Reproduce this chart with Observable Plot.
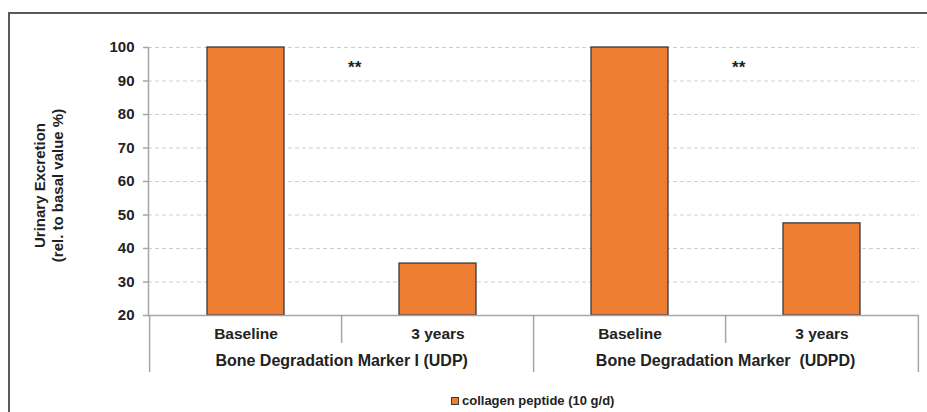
<!DOCTYPE html>
<html>
<head>
<meta charset="utf-8">
<script src="https://cdn.jsdelivr.net/npm/d3@7"></script>
<script src="https://cdn.jsdelivr.net/npm/@observablehq/plot@0.6"></script>
<style>
  html, body { margin: 0; padding: 0; background: #fff; }
  #wrap { position: relative; width: 927px; height: 412px; overflow: hidden; font-family: "Liberation Sans", Arial, sans-serif; }
  #border { position: absolute; left: 8px; top: 12px; width: 940px; height: 420px; border-top: 2px solid #5a5a5a; border-left: 2px solid #5a5a5a; box-sizing: border-box; }
  #chart { position: absolute; left: 0; top: 0; }
  #legend { position: absolute; top: 393px; left: 451px; display: flex; align-items: center; font-size: 13px; font-weight: bold; color: #222; white-space: nowrap; }
  #legend .sw { width: 6px; height: 6px; background: #ED7D31; border: 1px solid #3a3a3a; margin-right: 3px; }
</style>
</head>
<body>
<div id="wrap">
  <div id="border"></div>
  <div id="chart"></div>
  <div id="legend"><span class="sw"></span><span id="legendText"></span></div>
</div>
<script>
// ---- data ----
const groups = ["Bone Degradation Marker I (UDP)", "Bone Degradation Marker  (UDPD)"];
const groupKeys = ["UDP", "UDPD"];
const periods = ["Baseline", "3 years"];
const udpValues = [100, 35.5];
const udpdValues = [100, 47.5];
const significance = ["**", "**"];
const seriesName = "collagen peptide (10 g/d)";
const yTicks = [20, 30, 40, 50, 60, 70, 80, 90, 100];
const yLabelLines = ["Urinary Excretion", "(rel. to basal value %)"];

// ---- build table ----
const seriesValues = [udpValues, udpdValues];
const rows = [];
groupKeys.forEach((g, gi) => periods.forEach((p, pi) => rows.push({
  key: g + "|" + p, group: groups[gi], period: p, value: seriesValues[gi][pi]
})));
const keys = rows.map(d => d.key);
const periodOf = new Map(rows.map(d => [d.key, d.period]));
const secondKeys = groupKeys.map(g => g + "|" + periods[1]);
const firstKeys = groupKeys.map(g => g + "|" + periods[0]);
const groupLabelRows = groupKeys.map((g, i) => ({key: secondKeys[i], label: groups[i], sig: significance[i]}));

// ---- layout ----
const W = 927, H = 390, mL = 148, mR = 8, mT = 47, mB = 75;
const padIn = 0.6, padOut = 0.3;
const step = (W - mL - mR) / (keys.length - padIn + 2 * padOut);
const yMin = yTicks[0], yMax = yTicks[yTicks.length - 1];
const axisGray = "#a6a6a6";
const txt = "#222";

const chart = Plot.plot({
  width: W, height: H,
  marginLeft: mL, marginRight: mR, marginTop: mT, marginBottom: mB,
  style: {fontFamily: "'Liberation Sans', Arial, sans-serif", background: "transparent", overflow: "visible"},
  x: {type: "band", domain: keys, paddingInner: padIn, paddingOuter: padOut},
  y: {domain: [yMin, yMax]},
  marks: [
    Plot.gridY(yTicks.slice(1), {stroke: "#cfcfcf", strokeOpacity: 1, strokeDasharray: "4,3", strokeWidth: 1}),
    Plot.barY(rows, {x: "key", y1: () => yMin, y2: "value", fill: "#ED7D31", stroke: "#3a3a3a", strokeWidth: 1.3}),
    Plot.ruleY([yMin], {stroke: axisGray, strokeWidth: 1.5}),
    Plot.frame({anchor: "left", stroke: axisGray, strokeWidth: 1.5}),
    Plot.axisY(yTicks, {tickSize: 5, tickPadding: 9, label: null, fontSize: 15, fontWeight: "bold", fill: txt, stroke: axisGray, strokeWidth: 1.5}),
    // category tick labels
    Plot.axisX(keys, {tickSize: 0, tickPadding: 12, tickFormat: k => periodOf.get(k), label: null, fontSize: 15.5, fontWeight: "bold", fill: txt}),
    // inner dividers between periods
    Plot.axisX(secondKeys, {tickSize: 28, dx: -step / 2, fill: null, stroke: axisGray, strokeWidth: 1.5, label: null}),
    // outer dividers between groups
    Plot.axisX(firstKeys, {tickSize: 57, dx: -step / 2, fill: null, stroke: axisGray, strokeWidth: 1.5, label: null}),
    Plot.axisX([keys[keys.length - 1]], {tickSize: 57, dx: step / 2, fill: null, stroke: axisGray, strokeWidth: 1.5, label: null}),
    // group labels
    Plot.text(groupLabelRows, {x: "key", text: "label", frameAnchor: "bottom", dx: -step / 2, dy: 50, fontSize: 16, fontWeight: "bold", fill: txt}),
    // significance markers
    Plot.text(groupLabelRows, {x: "key", y: () => 94, text: "sig", dx: -step / 2 + 13, fontSize: 17, fontWeight: "bold", fill: txt}),
    // y label
    Plot.text([yLabelLines[0]], {frameAnchor: "left", textAnchor: "middle", text: d => d, rotate: -90, dx: -108, dy: 4, fontSize: 15, fontWeight: "bold", fill: txt}),
    Plot.text([yLabelLines[1]], {frameAnchor: "left", textAnchor: "middle", text: d => d, rotate: -90, dx: -90, dy: 4, fontSize: 15, fontWeight: "bold", fill: txt})
  ]
});
document.getElementById("chart").appendChild(chart);
document.getElementById("legendText").textContent = seriesName;
</script>
</body>
</html>
